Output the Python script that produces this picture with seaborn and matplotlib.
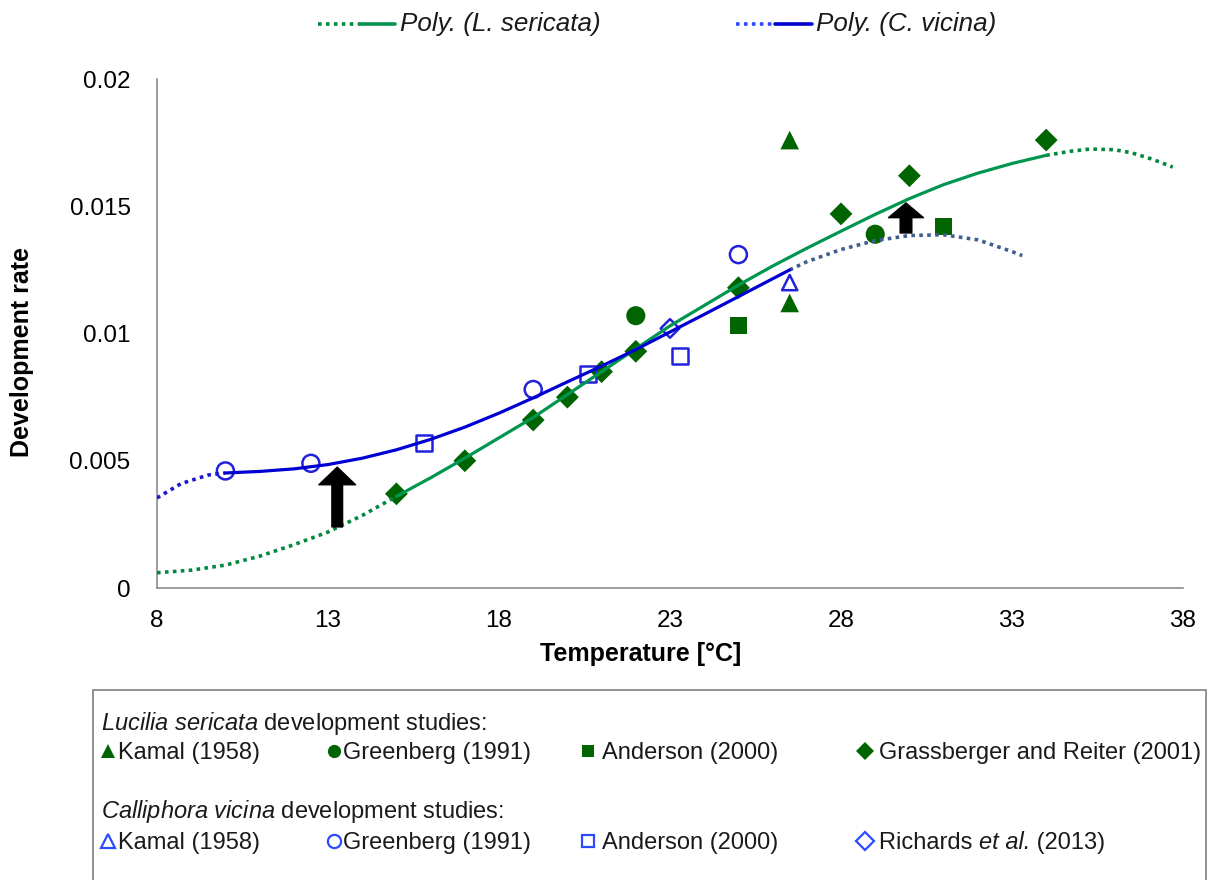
#!/usr/bin/env python3

import matplotlib
matplotlib.use("Agg")
import matplotlib.pyplot as plt
from matplotlib.lines import Line2D
from matplotlib.patches import Rectangle, FancyArrowPatch
import seaborn as sns

sns.set_theme(style="white")
plt.rcParams['font.family'] = ['Liberation Sans', 'DejaVu Sans']
plt.rcParams['mathtext.fontset'] = 'custom'
plt.rcParams['mathtext.rm'] = 'Liberation Sans'
plt.rcParams['mathtext.it'] = 'Liberation Sans:italic'

# Lucilia sericata studies (temperature [C], development rate)
ls_kamal_temp = [26.5, 26.5]
ls_kamal_rate = [0.0176, 0.0112]
ls_greenberg_temp = [22, 29]
ls_greenberg_rate = [0.0107, 0.0139]
ls_anderson_temp = [25, 31]
ls_anderson_rate = [0.0103, 0.0142]
ls_grass_temp = [15, 17, 19, 20, 21, 22, 25, 28, 30, 34]
ls_grass_rate = [0.0037, 0.0050, 0.0066, 0.0075, 0.0085, 0.0093, 0.0118, 0.0147, 0.0162, 0.0176]

# Calliphora vicina studies
cv_kamal_temp = [26.5]
cv_kamal_rate = [0.0120]
cv_greenberg_temp = [10, 12.5, 19, 25]
cv_greenberg_rate = [0.0046, 0.0049, 0.0078, 0.0131]
cv_anderson_temp = [15.8, 20.6, 23.3]
cv_anderson_rate = [0.0057, 0.0084, 0.0091]
cv_richards_temp = [23]
cv_richards_rate = [0.0102]

# Poly. trendlines (solid over data, dotted forecast)
ls_back_temp = [8, 9, 10, 11, 12, 13, 14, 15]
ls_back_rate = [0.0006, 0.0007, 0.0009, 0.00125, 0.0017, 0.0022, 0.00285, 0.0036]
ls_fit_temp = [15, 16, 17, 18, 19, 20, 21, 22, 23, 24, 25, 26, 27, 28, 29, 30, 31, 32, 33, 34]
ls_fit_rate = [0.0036, 0.00433, 0.0051, 0.0059, 0.0067, 0.0076, 0.0085, 0.0094, 0.0103, 0.0111,
               0.0119, 0.01265, 0.01335, 0.01402, 0.01468, 0.0153, 0.01585, 0.0163, 0.01668, 0.0170]
ls_fwd_temp = [34, 34.7, 35.3, 36.0, 36.5, 37.1, 37.7]
ls_fwd_rate = [0.0170, 0.01716, 0.01725, 0.01722, 0.0171, 0.01685, 0.01654]

cv_back_temp = [8.0, 8.7, 9.5, 10.0]
cv_back_rate = [0.00354, 0.0041, 0.00444, 0.00452]
cv_fit_temp = [10, 11, 12, 13, 14, 15, 16, 17, 18, 19, 20, 21, 22, 23, 24, 25, 26, 26.5]
cv_fit_rate = [0.00452, 0.00458, 0.00468, 0.00485, 0.0051, 0.00543, 0.00584, 0.00632, 0.00687,
               0.00747, 0.0081, 0.00872, 0.00937, 0.01006, 0.01075, 0.01145, 0.01215, 0.0125]
cv_fwd_temp = [26.5, 27, 28, 29, 30, 31, 32, 33, 33.3]
cv_fwd_rate = [0.0125, 0.01282, 0.0133, 0.01365, 0.01385, 0.01388, 0.01368, 0.01322, 0.01306]

# black arrows
arrow_temp = [13.27, 29.9]
arrow_from = [0.0024, 0.01395]
arrow_to = [0.00475, 0.01513]

xticks = [8, 13, 18, 23, 28, 33, 38]
yticks = [0, 0.005, 0.01, 0.015, 0.02]
ytick_labels = ['0', '0.005', '0.01', '0.015', '0.02']

GREEN_MK = '#006400'
GREEN_LN = '#00964F'
GREEN_DOT = '#00883F'
BLUE_MK = '#2222DD'
BLUE_LN = '#0000D2'
BLUE_DOT_L = '#1818CC'
BLUE_DOT_R = '#3F5E90'
LEG_BLUE = '#2A4BFF'
GREY = '#8c8c8c'
TXT = '#1a1a1a'

W, H = 1211, 880


def px(x, y):
    return x / W, 1 - y / H


fig = plt.figure(figsize=(W / 100, H / 100), dpi=100)
ax = fig.add_axes([157 / W, 1 - 588 / H, (1183 - 157) / W, (588 - 79) / H])

# markers
sns.scatterplot(x=ls_kamal_temp, y=ls_kamal_rate, marker='^', s=180, color=GREEN_MK, edgecolor='none', ax=ax)
sns.scatterplot(x=ls_greenberg_temp, y=ls_greenberg_rate, marker='o', s=190, color=GREEN_MK, edgecolor='none', ax=ax)
sns.scatterplot(x=ls_anderson_temp, y=ls_anderson_rate, marker='s', s=150, color=GREEN_MK, edgecolor='none', ax=ax)
sns.scatterplot(x=ls_grass_temp, y=ls_grass_rate, marker='D', s=135, color=GREEN_MK, edgecolor='none', ax=ax)

sns.scatterplot(x=cv_kamal_temp, y=cv_kamal_rate, marker='^', s=120, color=BLUE_MK, facecolor='none', edgecolor=BLUE_MK, linewidth=1.8, ax=ax)
sns.scatterplot(x=cv_greenberg_temp, y=cv_greenberg_rate, marker='o', s=150, color=BLUE_MK, facecolor='none', edgecolor=BLUE_MK, linewidth=1.8, ax=ax)
sns.scatterplot(x=cv_anderson_temp, y=cv_anderson_rate, marker='s', s=130, color=BLUE_MK, facecolor='none', edgecolor=BLUE_MK, linewidth=1.8, ax=ax)
sns.scatterplot(x=cv_richards_temp, y=cv_richards_rate, marker='D', s=90, color=BLUE_MK, facecolor='none', edgecolor=BLUE_MK, linewidth=1.8, ax=ax)

# trendlines
dots = (0, (1, 1.2))
sns.lineplot(x=ls_back_temp, y=ls_back_rate, color=GREEN_DOT, linewidth=2.6, linestyle=dots, ax=ax, zorder=3)
sns.lineplot(x=ls_fwd_temp, y=ls_fwd_rate, color=GREEN_DOT, linewidth=2.6, linestyle=dots, ax=ax, zorder=3)
sns.lineplot(x=ls_fit_temp, y=ls_fit_rate, color=GREEN_LN, linewidth=2.3, ax=ax, zorder=4)
sns.lineplot(x=cv_back_temp, y=cv_back_rate, color=BLUE_DOT_L, linewidth=2.6, linestyle=dots, ax=ax, zorder=3)
sns.lineplot(x=cv_fwd_temp, y=cv_fwd_rate, color=BLUE_DOT_R, linewidth=2.6, linestyle=dots, ax=ax, zorder=3)
sns.lineplot(x=cv_fit_temp, y=cv_fit_rate, color=BLUE_LN, linewidth=2.3, ax=ax, zorder=5)

# arrows
styles = ['simple,head_length=12.7,head_width=26.4,tail_width=7.7',
          'simple,head_length=10.6,head_width=25.2,tail_width=8.4']
for t, r0, r1, st in zip(arrow_temp, arrow_from, arrow_to, styles):
    ax.add_patch(FancyArrowPatch((t, r0), (t, r1), arrowstyle=st, mutation_scale=1,
                                 color='black', shrinkA=0, shrinkB=0, zorder=6))

ax.set_xlim(8, 38)
ax.set_ylim(0, 0.02)
ax.set_xticks(xticks)
ax.set_xticklabels([str(v) for v in xticks])
ax.set_yticks(yticks)
ax.set_yticklabels(ytick_labels)
ax.tick_params(axis='both', direction='out', length=8, width=1, color=GREY,
               labelsize=17.5, labelcolor='black')
ax.tick_params(axis='y', pad=11)
ax.tick_params(axis='x', pad=8)
for side in ['top', 'right']:
    ax.spines[side].set_visible(False)
for side in ['left', 'bottom']:
    ax.spines[side].set_color(GREY)
    ax.spines[side].set_linewidth(1.2)

ax.set_xlabel('Temperature [°C]', fontsize=18, fontweight='bold', color='black')
ax.set_ylabel('Development rate', fontsize=18, fontweight='bold', color='black')
ax.xaxis.set_label_coords((641 - 157) / 1026, (588 - 654) / 509)
ax.xaxis.label.set_va('center')
ax.yaxis.set_label_coords((22 - 157) / 1026, (588 - 352) / 509)
ax.yaxis.label.set_va('center')

# top legend
for (d0, d1, s1, tx, dcol, scol, label) in [
        (318, 360, 395, 400, GREEN_DOT, GREEN_LN, 'Poly. (L. sericata)'),
        (736, 775, 812, 816, LEG_BLUE, BLUE_LN, 'Poly. (C. vicina)')]:
    fig.add_artist(Line2D([d0 / W, d1 / W], [1 - 24 / H] * 2, color=dcol, lw=2.6,
                          linestyle=dots, transform=fig.transFigure))
    fig.add_artist(Line2D([d1 / W, s1 / W], [1 - 24 / H] * 2, color=scol, lw=2.6,
                          transform=fig.transFigure))
    fig.text(*px(tx, 24), label, fontsize=18.7, style='italic', va='center', ha='left',
             color=TXT)

# bottom legend box
fig.add_artist(Rectangle(px(93, 884), (1206 - 93) / W, (884 - 690) / H, fill=False,
                         edgecolor='#7f7f7f', lw=1.2, transform=fig.transFigure))

leg_size = 17
fig.text(*px(101, 730), r'$\mathit{Lucilia\ sericata}$ development studies:',
         fontsize=leg_size, va='baseline', color=TXT)
fig.text(*px(101, 818), r'$\mathit{Calliphora\ vicina}$ development studies:',
         fontsize=leg_size, va='baseline', color=TXT)

mk_x = [108, 334, 588, 865]
tx_x = [118, 343, 602, 879]
ls_labels = ['Kamal (1958)', 'Greenberg (1991)', 'Anderson (2000)', 'Grassberger and Reiter (2001)']
cv_labels = ['Kamal (1958)', 'Greenberg (1991)', 'Anderson (2000)', None]
ls_leg_mk = [('^', 10), ('o', 9.5), ('s', 8.5), ('D', 9)]
cv_leg_mk = [('^', 10), ('o', 9.5), ('s', 9), ('D', 9.5)]

for row_y, labels, mks, filled in [(751, ls_labels, ls_leg_mk, True), (841, cv_labels, cv_leg_mk, False)]:
    for mx, tx, lab, (m, ms) in zip(mk_x, tx_x, labels, mks):
        col = GREEN_MK if filled else LEG_BLUE
        fig.add_artist(Line2D([mx / W], [1 - row_y / H], marker=m, markersize=ms, linestyle='none',
                              markerfacecolor=col if filled else 'none', markeredgecolor=col,
                              markeredgewidth=0 if filled else 1.6, transform=fig.transFigure))
        if lab is not None:
            fig.text(*px(tx, row_y + 8), lab, fontsize=leg_size, va='baseline', color=TXT)

# "Richards et al. (2013)" with the italic part, pieces chained end to end
t = fig.text(*px(tx_x[3], 849), 'Richards ', fontsize=leg_size, va='baseline', color=TXT)
for s, st in [('et al.', 'italic'), (' (2013)', 'normal')]:
    t = ax.annotate(s, xy=(1, 0), xycoords=t, xytext=(0, 0), textcoords='offset points',
                    fontsize=leg_size, style=st, va='bottom', ha='left', color=TXT,
                    annotation_clip=False)

fig.savefig('out.png', dpi=100)
